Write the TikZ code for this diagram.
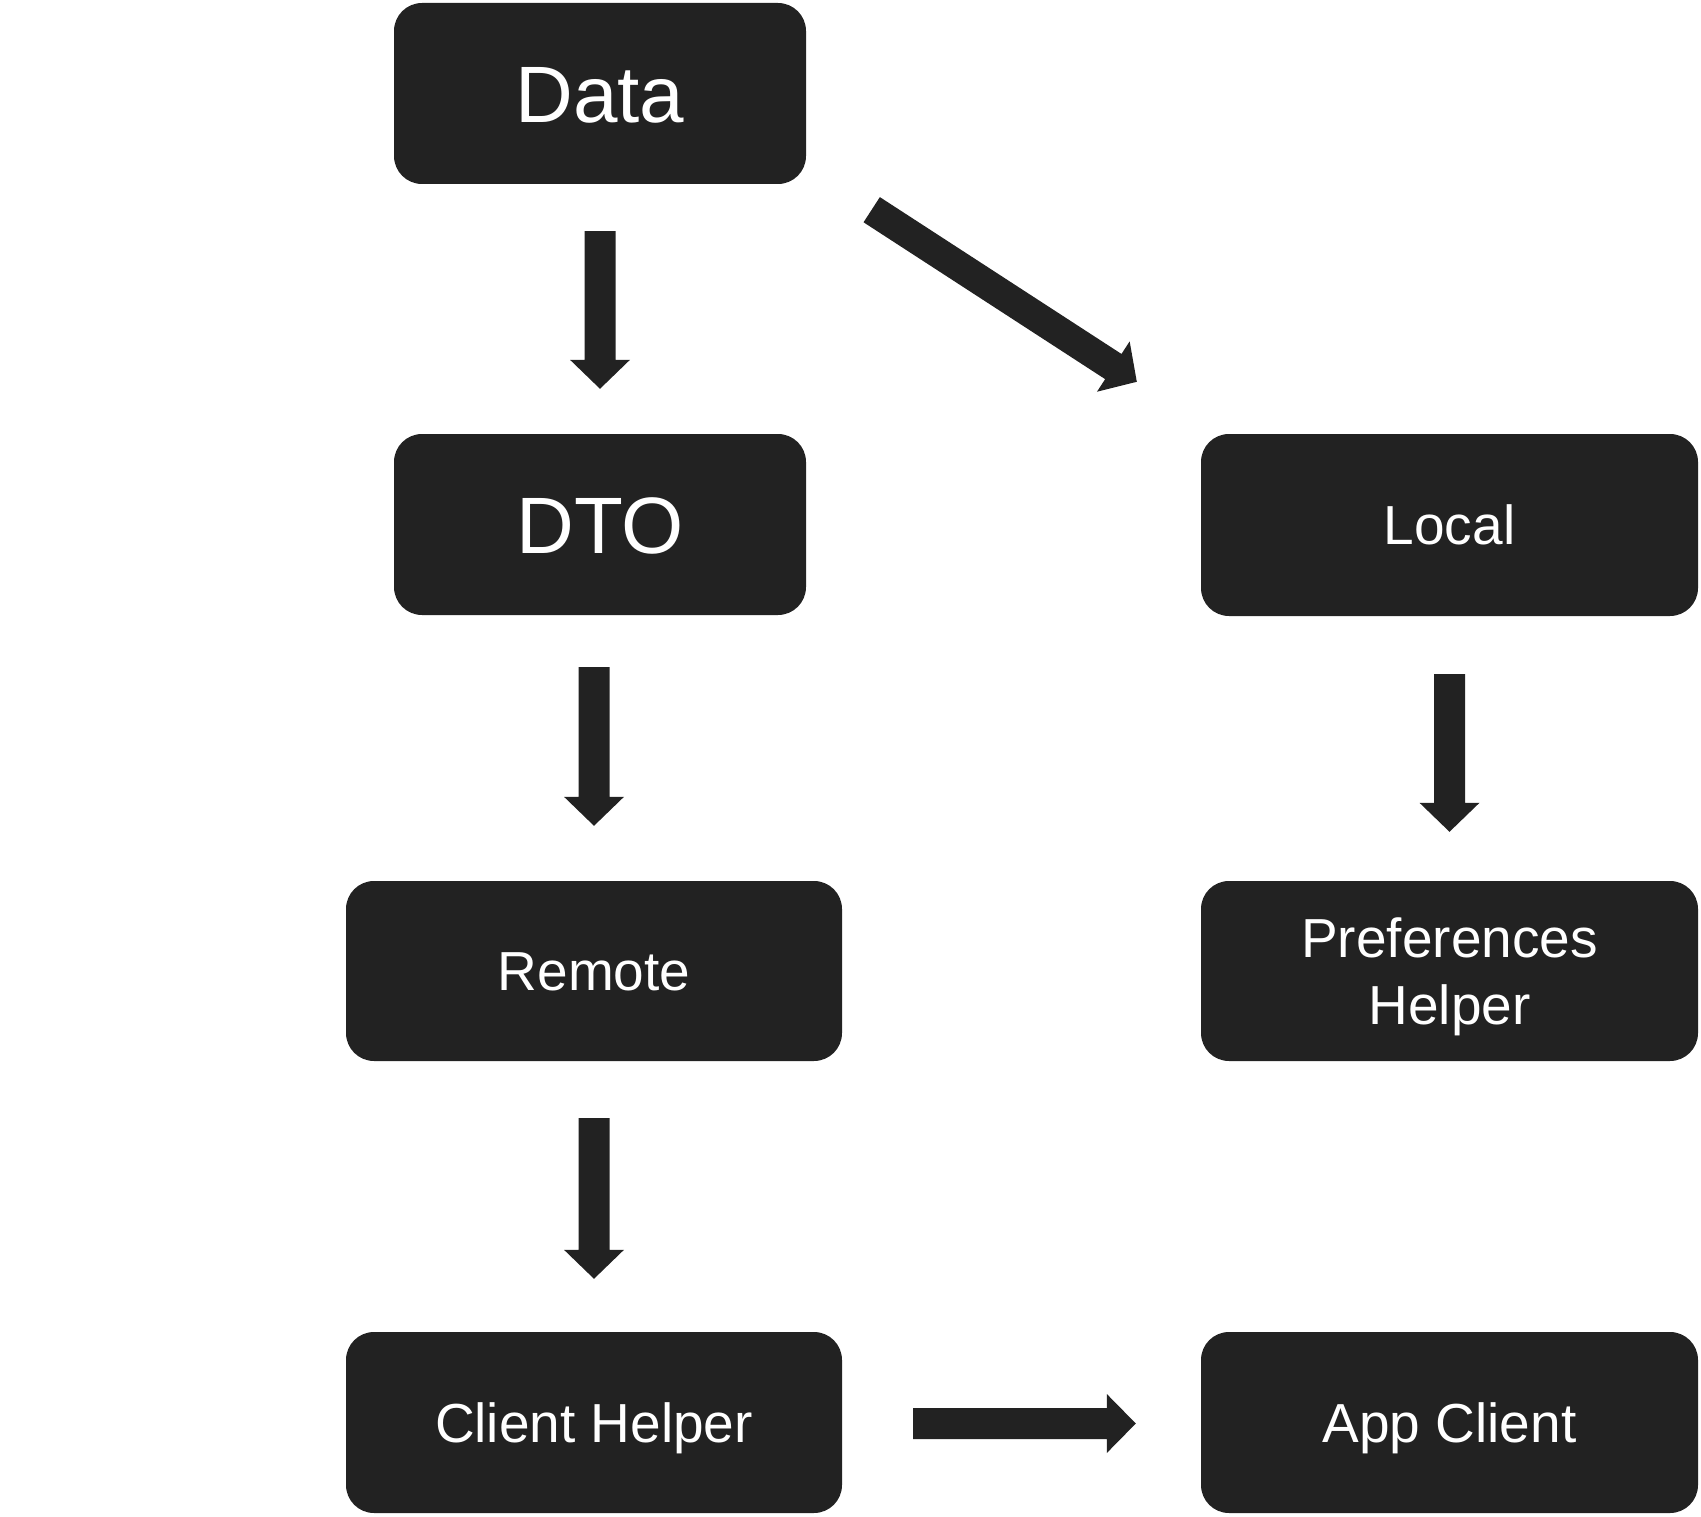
\documentclass[tikz,border=0pt]{standalone}
\usepackage{fontspec}
\setmainfont{Liberation Sans}
\usetikzlibrary{calc}
\definecolor{boxdark}{HTML}{222222}
\tikzset{
  box/.style={rectangle, fill=boxdark, text=white, rounded corners=28pt, inner sep=0pt, align=center},
  bigtext/.style={font=\fontsize{80}{96}\selectfont, text height=57.3pt, text depth=0pt},
  midtext/.style={font=\fontsize{55}{67}\selectfont, text height=39.4pt, text depth=0pt},
  twoline/.style={font=\fontsize{55}{67}\selectfont, text height=106.4pt, text depth=0pt},
  arr/.style={fill=boxdark}
}
% block arrow from #1 to #2, shaft half width #3, head half width #4, head length #5
\newcommand\blockarrow[5]{%
  \path (#1) coordinate (ba@s) (#2) coordinate (ba@e);
  \path ($(ba@e)!#5pt!(ba@s)$) coordinate (ba@h);
  \fill[arr] ($(ba@s)!#3pt!90:(ba@e)$) -- ($(ba@h)!#3pt!-90:(ba@s)$) -- ($(ba@h)!#4pt!-90:(ba@s)$) -- (ba@e)
    -- ($(ba@h)!#4pt!90:(ba@s)$) -- ($(ba@h)!#3pt!90:(ba@s)$) -- ($(ba@s)!#3pt!-90:(ba@e)$) -- cycle;
}
\begin{document}
\begin{tikzpicture}[x=1pt,y=-1pt]
\useasboundingbox (0,0) rectangle (1701,1517);
\node[box, bigtext, minimum width=412pt, minimum height=181pt] (data) at (600,93.5) {Data};
\node[box, bigtext, minimum width=412pt, minimum height=181pt] (dto) at (600,524.5) {DTO};
\node[box, midtext, minimum width=497pt, minimum height=182pt] (local) at (1449.5,525) {Local};
\node[box, midtext, minimum width=496pt, minimum height=180pt] (remote) at (594,971) {Remote};
\node[box, twoline, minimum width=497pt, minimum height=180pt] (pref) at (1449.5,971) {Preferences\\Helper};
\node[box, midtext, minimum width=496pt, minimum height=181pt] (client) at (594,1422.5) {Client Helper};
\node[box, midtext, minimum width=497pt, minimum height=181pt] (app) at (1449.5,1422.5) {App Client};

\blockarrow{$(data.south)+(0,47)$}{$(dto.north)+(0,-45)$}{15.5}{30}{29}
\blockarrow{$(data.south east)+(65.5,25.5)$}{$(local.north west)+(-64,-52)$}{15}{30}{28}
\blockarrow{$(remote.north |- dto.south)+(0,52)$}{$(remote.north)+(0,-55)$}{15.5}{30}{29}
\blockarrow{$(remote.south)+(0,57)$}{$(client.north)+(0,-53)$}{15.5}{30}{29}
\blockarrow{$(local.south)+(0,58)$}{$(pref.north)+(0,-49)$}{15.5}{30}{29}
\blockarrow{$(client.east)+(71,1)$}{$(app.west)+(-65,1)$}{15.5}{29.5}{29}
\end{tikzpicture}
\end{document}
